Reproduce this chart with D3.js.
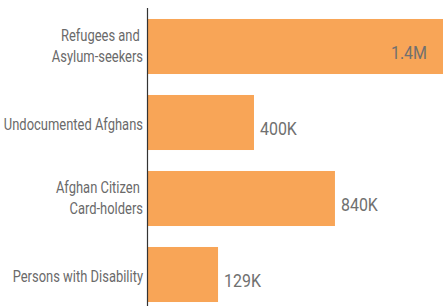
<!DOCTYPE html>
<html><head><meta charset="utf-8">
<script src="https://cdn.jsdelivr.net/npm/d3@7"></script>
<style>
html,body{margin:0;padding:0;background:#fff;}
svg{display:block;font-family:Roboto,"Noto Sans",sans-serif;}
</style></head>
<body>
<svg id="chart" width="443" height="306"></svg>
<script>
// Categories (line-broken as in the reference)
const categories = [
  ["Refugees and ", "Asylum-seekers"],
  ["Undocumented Afghans"],
  ["Afghan Citizen ", "Card-holders"],
  ["Persons with Disability"]
];
// Value labels printed on the chart
const valueLabels = ["1.4M", "400K", "840K", "129K"];
// Bar lengths (thousands)
const barValues = [1400, 506, 889, 336];

const W = 443, H = 306;
const left = 147;
const SX = 0.84;  // condensed look for value labels
const SXC = 0.82; // condensed look for category labels
const svg = d3.select("#chart");

const keys = categories.map((c, i) => "c" + i);
const y = d3.scaleBand().domain(keys).range([8.5, 312.5])
  .paddingInner(0.276).paddingOuter(0.138);
const x = d3.scaleLinear().domain([0, 1400]).range([left, W]);

// bars
svg.append("g").selectAll("rect").data(barValues).join("rect")
  .attr("x", x(0))
  .attr("y", (d, i) => y(keys[i]))
  .attr("width", d => x(d) - x(0))
  .attr("height", y.bandwidth())
  .attr("fill", "#F8A557");

// axis
const axis = svg.append("g").attr("transform", `translate(${left},0)`)
  .call(d3.axisLeft(y).tickSize(0).tickSizeOuter(0));
axis.select(".domain").attr("stroke", "#333").attr("stroke-width", 1.2)
  .attr("d", `M0.5,8V${H}`);
axis.selectAll(".tick text").each(function(k) {
  const i = keys.indexOf(k);
  const lines = categories[i];
  const t = d3.select(this).text(null)
    .attr("fill", "#6a6a6a").attr("font-size", 15.8)
    .attr("font-family", "Roboto, sans-serif")
    .attr("transform", `scale(${SXC},1)`)
    .style("white-space", "pre").attr("dy", null).attr("x", null);
  const lh = 21.5;
  const off = lines.length === 1 ? 2 : -0.5;
  lines.forEach((ln, j) => {
    t.append("tspan").attr("x", -4 / SXC)
      .attr("y", (j - (lines.length - 1) / 2) * lh + off)
      .attr("dy", "0.35em").text(ln);
  });
});

// value labels
svg.append("g").selectAll("text").data(barValues).join("text")
  .attr("transform", (d, i) => {
    const tx = i === 0 ? x(d) - 16 : x(d) + 6;
    const ty = y(keys[i]) + y.bandwidth() / 2 + 5.5;
    return `translate(${tx},${ty}) scale(${SX},1)`;
  })
  .attr("dy", "0.35em")
  .attr("text-anchor", (d, i) => i === 0 ? "end" : "start")
  .attr("font-size", 19)
  .attr("fill", "#707070")
  .text((d, i) => valueLabels[i]);
</script>
</body></html>
